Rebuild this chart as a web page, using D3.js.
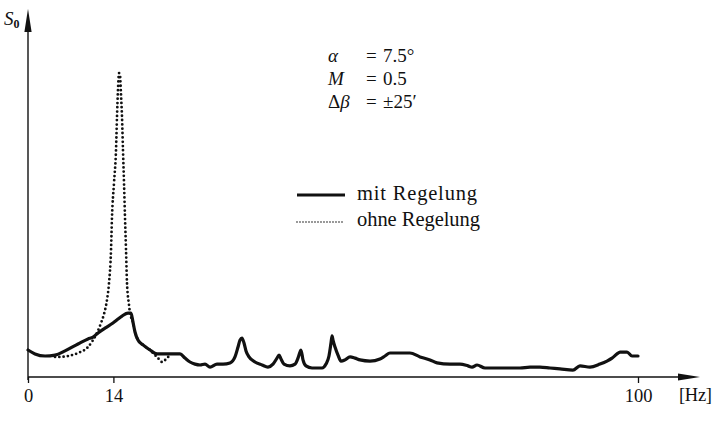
<!DOCTYPE html>
<html>
<head>
<meta charset="utf-8">
<script src="https://cdn.jsdelivr.net/npm/d3@7"></script>
<style>
  html, body { margin: 0; padding: 0; background: #fff; }
  svg { display: block; }
  text { font-family: "Liberation Serif", "Times New Roman", serif; fill: #111; }
</style>
</head>
<body>
<svg id="chart" width="714" height="427"></svg>
<script>
// Frequency (Hz) and spectral amplitude S0 (arbitrary units)
const mitFreq = [0.00, 1.15, 2.79, 4.43, 6.07, 8.20, 9.84, 10.66, 11.48, 12.62, 13.93, 14.75, 15.41, 16.39, 16.89,
  17.21, 17.54, 18.03, 18.85, 20.00, 21.15, 22.46, 23.61, 24.92, 25.74, 26.56, 27.38, 28.20, 29.02, 29.84,
  30.98, 31.97, 33.11, 33.93, 34.43, 34.75, 35.08, 35.41, 35.74, 36.23, 37.21, 38.36, 39.34, 40.16, 40.82,
  41.15, 41.48, 41.97, 42.95, 43.77, 44.26, 44.59, 44.75, 45.08, 45.57, 46.56, 48.20, 48.85, 49.34, 49.67,
  49.84, 50.00, 50.33, 50.82, 51.31, 51.97, 52.79, 53.61, 54.43, 56.07, 57.70, 58.52, 59.34, 60.98, 62.62,
  64.26, 65.90, 67.05, 69.18, 70.82, 72.13, 72.79, 73.61, 74.92, 77.38, 79.02, 80.66, 82.30, 83.93, 85.57,
  87.21, 89.34, 90.49, 92.13, 93.77, 94.92, 95.74, 96.56, 97.05, 98.20, 99.02, 100.0];
const mitS0 = [0.90, 0.77, 0.70, 0.73, 0.87, 1.10, 1.27, 1.33, 1.47, 1.63, 1.80, 1.93, 2.03, 2.13, 2.13,
  1.83, 1.50, 1.23, 1.07, 0.90, 0.77, 0.77, 0.77, 0.77, 0.63, 0.50, 0.43, 0.40, 0.43, 0.33,
  0.43, 0.43, 0.47, 0.67, 1.00, 1.23, 1.30, 1.13, 0.87, 0.67, 0.50, 0.40, 0.33, 0.43, 0.63,
  0.73, 0.60, 0.43, 0.37, 0.43, 0.63, 0.83, 0.90, 0.57, 0.37, 0.30, 0.30, 0.43, 0.70, 1.13,
  1.37, 1.23, 1.00, 0.73, 0.53, 0.57, 0.67, 0.63, 0.57, 0.53, 0.60, 0.70, 0.80, 0.80, 0.80,
  0.67, 0.57, 0.47, 0.43, 0.43, 0.37, 0.33, 0.40, 0.30, 0.30, 0.30, 0.30, 0.33, 0.33, 0.30,
  0.27, 0.23, 0.37, 0.33, 0.43, 0.53, 0.63, 0.77, 0.83, 0.83, 0.70, 0.70];

const ohneFreq = [4.43, 5.25, 6.56, 8.20, 9.84, 10.66, 11.31, 11.97, 12.46, 12.95, 13.28, 13.61, 13.77, 14.10,
  14.43, 14.59, 14.75, 14.92, 15.08, 15.25, 15.41, 15.57, 15.74, 15.90, 16.07, 16.23, 16.56, 16.72,
  17.21, 17.54, 18.03, 18.85, 20.00, 20.82, 21.31, 21.97, 22.79, 23.28];
const ohneS0 = [0.67, 0.67, 0.70, 0.80, 1.00, 1.23, 1.47, 1.80, 2.10, 2.57, 3.13, 4.23, 5.33, 6.47,
  7.57, 8.67, 9.57, 10.13, 10.07, 9.40, 8.67, 7.57, 6.47, 5.33, 4.23, 3.13, 2.40, 2.13,
  1.83, 1.50, 1.23, 1.07, 0.90, 0.73, 0.63, 0.50, 0.63, 0.73];

const xTicks = [0, 14, 100];
const annotation = [
  { sym: "α", val: "7.5°" },
  { sym: "M", val: "0.5" },
  { sym: "Δβ", val: "±25′" }
];
const legendLabels = ["mit Regelung", "ohne Regelung"];

const svg = d3.select("#chart");
const x = d3.scaleLinear().domain([0, 100]).range([28, 638]);
const y = d3.scaleLinear().domain([0, 12]).range([377, 17]);

// x axis with ticks
const xAxis = d3.axisBottom(x).tickValues(xTicks).tickSize(6).tickSizeOuter(0).tickFormat(d3.format("d"));
const gx = svg.append("g").attr("transform", `translate(0,${y(0)})`).call(xAxis);
gx.select(".domain").remove();
gx.selectAll(".tick line").attr("stroke", "#111").attr("stroke-width", 1.3);
gx.selectAll(".tick text").attr("y", 25).attr("dy", null)
  .style("font-family", "'Liberation Serif', serif").style("font-size", "18.5px").attr("fill", "#111");

// axis lines with arrowheads
svg.append("line").attr("x1", x(0)).attr("x2", 682).attr("y1", y(0)).attr("y2", y(0))
  .attr("stroke", "#111").attr("stroke-width", 1.4);
svg.append("path").attr("d", `M700,${y(0)} L678,${y(0) - 3.6} L678,${y(0) + 3.6} Z`).attr("fill", "#111");
svg.append("line").attr("x1", x(0)).attr("x2", x(0)).attr("y1", y(0) + 3).attr("y2", 28)
  .attr("stroke", "#111").attr("stroke-width", 1.4);
svg.append("path").attr("d", `M${x(0)},9 L${x(0) - 3.6},32 L${x(0) + 3.6},32 Z`).attr("fill", "#111");

// axis titles
const sLab = svg.append("text").attr("x", 4).attr("y", 25).style("font-size", "19px");
sLab.append("tspan").text("S").style("font-style", "italic");
sLab.append("tspan").text("0").attr("dy", 3).style("font-size", "12px").style("font-weight", "bold");
svg.append("text").attr("x", 679).attr("y", 401).style("font-size", "18.5px")
  .attr("textLength", 33).attr("lengthAdjust", "spacing").text("[Hz]");

const line = d3.line().x(d => x(d[0])).y(d => y(d[1])).curve(d3.curveMonotoneX);

// uncontrolled spectrum (dotted)
svg.append("path").datum(d3.zip(ohneFreq, ohneS0)).attr("d", line)
  .attr("fill", "none").attr("stroke", "#111").attr("stroke-width", 2.8)
  .attr("stroke-linecap", "round").attr("stroke-dasharray", "0 4.3");

// controlled spectrum (solid)
svg.append("path").datum(d3.zip(mitFreq, mitS0)).attr("d", line)
  .attr("fill", "none").attr("stroke", "#111").attr("stroke-width", 3.2)
  .attr("stroke-linejoin", "round").attr("stroke-linecap", "round");

// parameter block
const rows = svg.append("g").selectAll("g").data(annotation).join("g")
  .attr("transform", (d, i) => `translate(0,${62 + i * 23})`);
rows.append("text").attr("x", 328).style("font-size", "19px")
  .each(function(d) {
    const t = d3.select(this);
    if (d.sym === "Δβ") {
      t.append("tspan").text("Δ");
      t.append("tspan").text("β").style("font-style", "italic");
    } else {
      t.append("tspan").text(d.sym).style("font-style", "italic");
    }
  });
rows.append("text").attr("x", 366).style("font-size", "19px").text("=");
rows.append("text").attr("x", 383).style("font-size", "19px").text(d => d.val);

// legend
const lg = svg.append("g");
lg.append("line").attr("x1", 297).attr("x2", 345).attr("y1", 195).attr("y2", 195)
  .attr("stroke", "#111").attr("stroke-width", 3);
lg.append("line").attr("x1", 297).attr("x2", 345).attr("y1", 222).attr("y2", 222)
  .attr("stroke", "#111").attr("stroke-width", 1.6).attr("stroke-linecap", "round")
  .attr("stroke-dasharray", "0 3");
lg.selectAll("text").data(legendLabels).join("text")
  .attr("x", 357).attr("y", (d, i) => 200 + i * 26).style("font-size", "20.5px")
  .attr("textLength", (d, i) => [120, 123][i]).attr("lengthAdjust", "spacing")
  .text(d => d);
</script>
</body>
</html>
